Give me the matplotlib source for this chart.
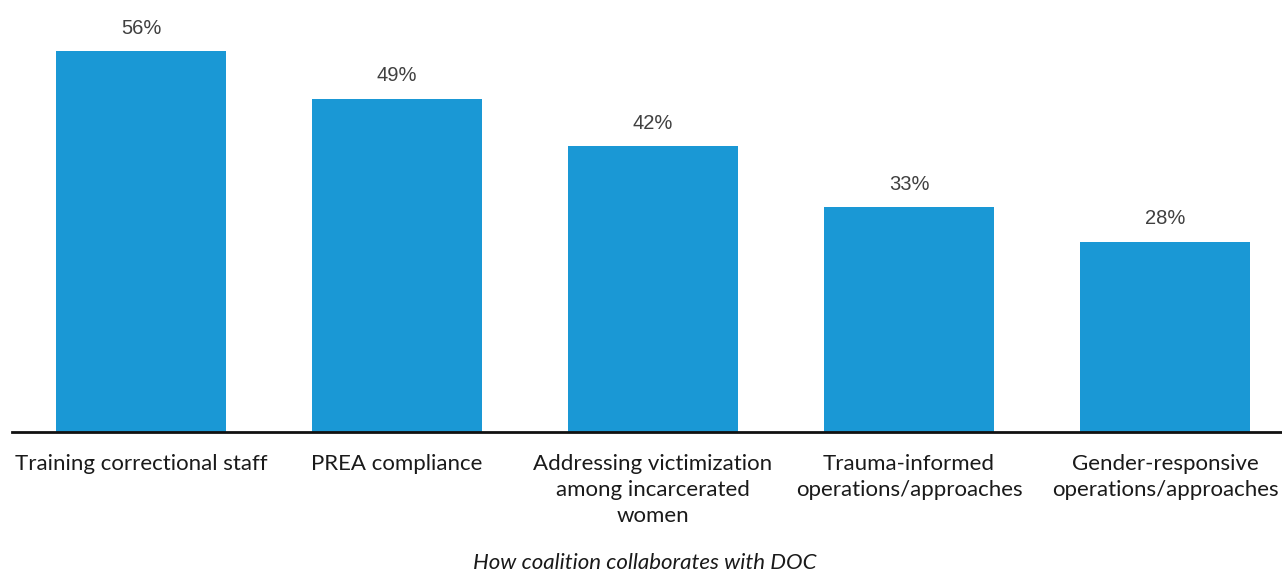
import matplotlib.pyplot as plt

categories = [
    "Training correctional staff",
    "PREA compliance",
    "Addressing victimization\namong incarcerated\nwomen",
    "Trauma-informed\noperations/approaches",
    "Gender-responsive\noperations/approaches",
]
values = [56, 49, 42, 33, 28]
value_labels = ["56%", "49%", "42%", "33%", "28%"]

BAR_COLOR = "#1a98d5"


def main():
    fig = plt.figure(figsize=(12.82, 5.72), dpi=100)
    ax = fig.add_axes([12 / 1282, 140 / 572, 1270 / 1282, 432 / 572])

    x = list(range(len(categories)))
    ax.bar(x, values, width=0.664, color=BAR_COLOR)

    # value labels above bars
    for xi, v, lab in zip(x, values, value_labels):
        ax.annotate(lab, (xi, v), xytext=(0, 9.5), textcoords="offset points",
                    ha="center", va="bottom", fontsize=14.5, color="#404040",
                    family="Liberation Sans")

    ax.set_xlim(-0.504, 4.457)
    ax.set_ylim(0, 63.5)
    ax.set_yticks([])
    ax.set_xticks(x)
    ax.set_xticklabels(categories, fontsize=16, family="Lato", color="#1a1a1a",
                       linespacing=1.38, va="top")
    ax.tick_params(axis="x", length=0, pad=16)

    for side in ["top", "right", "left"]:
        ax.spines[side].set_visible(False)
    ax.spines["bottom"].set_linewidth(2)
    ax.spines["bottom"].set_color("#111111")

    fig.text(645 / 1282, 1 - 563 / 572, "How coalition collaborates with DOC",
             ha="center", va="center", fontsize=16, style="italic",
             family="Lato", color="#1a1a1a")

    fig.savefig("out.png", dpi=100)
    plt.close(fig)


if __name__ == "__main__":
    main()
